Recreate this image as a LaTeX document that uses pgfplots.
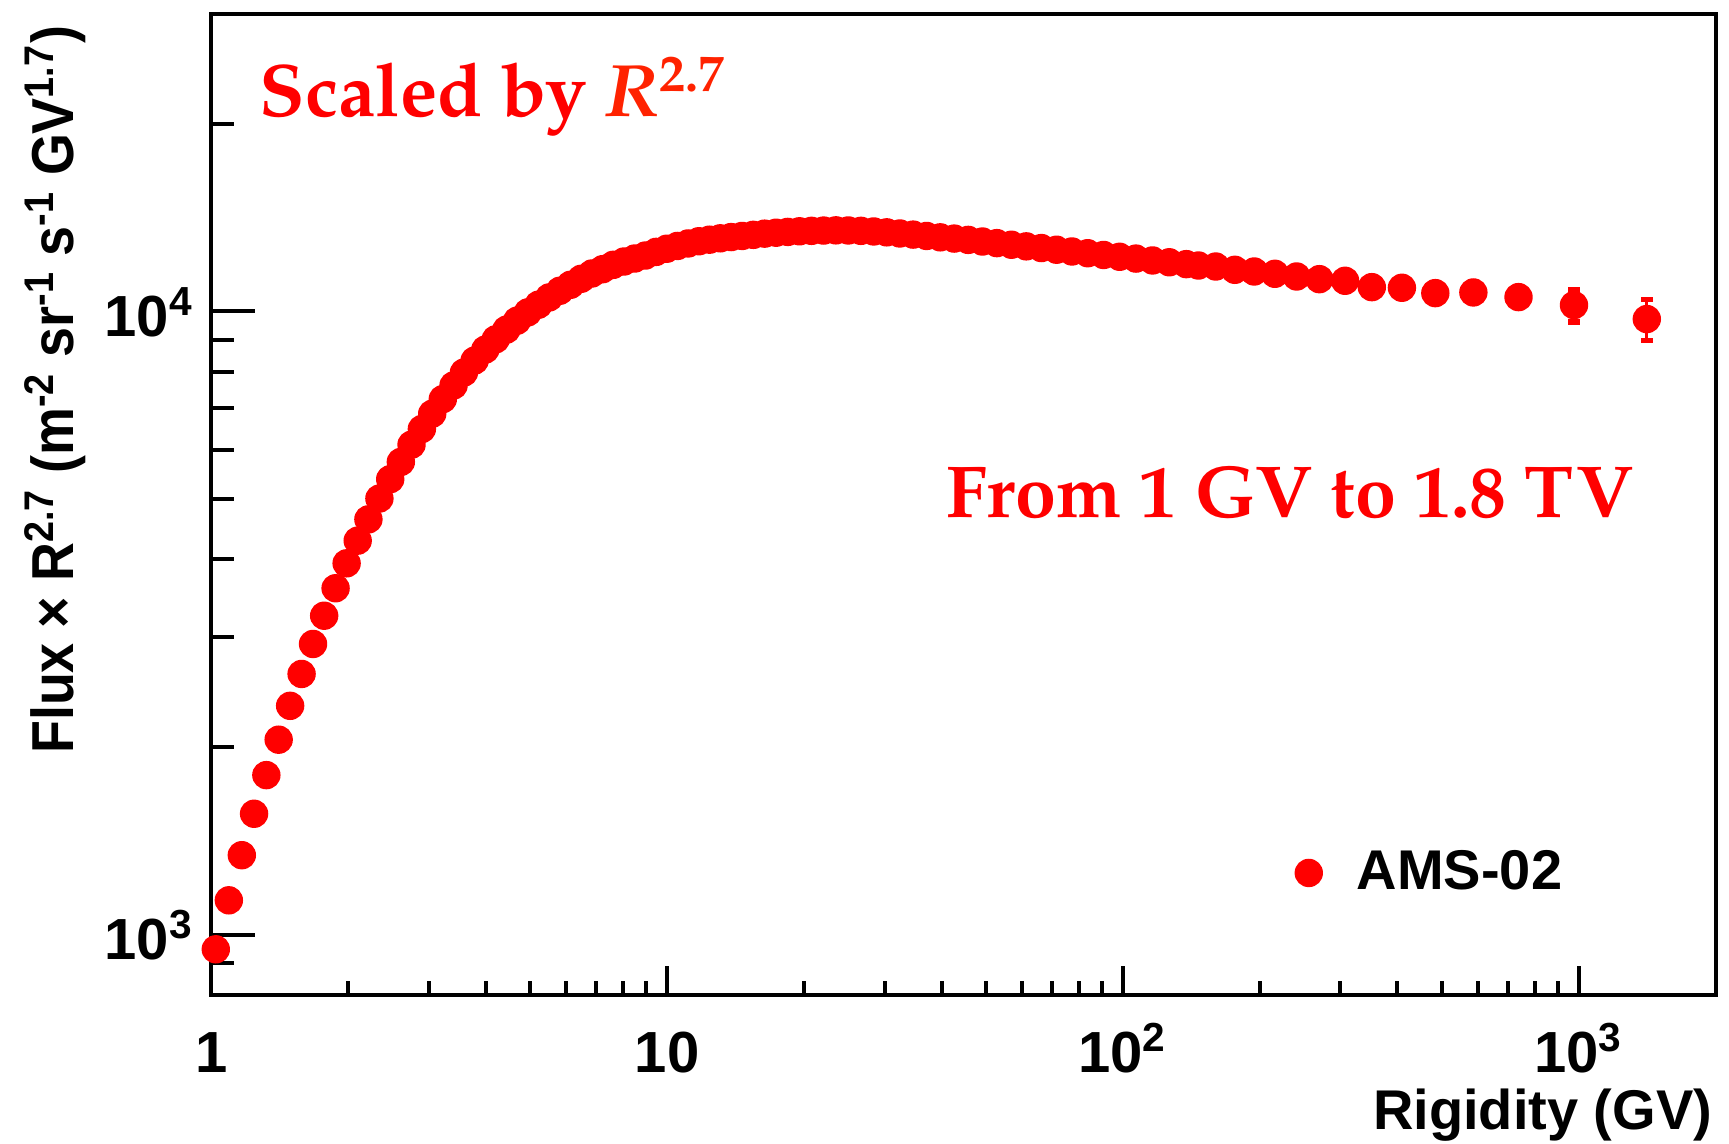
\documentclass[border=0pt]{standalone}
\usepackage{pgfplots}
\pgfplotsset{compat=1.18}
\usepackage{pgfplotstable}
\usepackage{graphicx}
\usepackage{fontspec}
\setmainfont{Liberation Sans}
\newfontfamily\pal{TeX Gyre Pagella}
\definecolor{rred}{RGB}{255,34,0}

\pgfplotstableread{
x y ey
1.0235 948 0
1.0932 1136 0
1.1673 1342 0
1.2418 1564 0
1.3213 1804 0
1.4061 2056 0
1.4900 2330 0
1.5788 2621 0
1.6728 2928 0
1.7696 3250 0
1.8747 3597 0
1.9822 3944 0
2.0960 4288 0
2.2125 4639 0
2.3388 5010 0
2.4700 5381 0
2.6062 5735 0
2.7508 6113 0
2.8985 6477 0
3.0539 6853 0
3.2219 7233 0
3.4012 7607 0
3.5844 7980 0
3.7841 8340 0
3.9946 8686 0
4.2090 9020 0
4.4429 9348 0
4.6881 9663 0
4.9489 9963 0
5.2240 10250 0
5.5118 10529 0
5.8187 10792 0
6.1424 11033 0
6.4823 11280 0
6.8429 11503 0
7.2236 11687 0
7.6208 11877 0
8.0445 12023 0
8.4918 12157 0
8.9637 12292 0
9.4623 12459 0
9.9862 12604 0
10.539 12735 0
11.125 12853 0
11.744 12958 0
12.391 13032 0
13.081 13098 0
13.821 13159 0
14.612 13213 0
15.460 13268 0
16.368 13326 0
17.345 13372 0
18.395 13412 0
19.524 13443 0
20.741 13465 0
22.049 13480 0
23.462 13490 0
24.980 13484 0
26.624 13465 0
28.403 13434 0
30.329 13391 0
32.404 13335 0
34.656 13280 0
37.101 13213 0
39.755 13146 0
42.649 13086 0
45.772 13023 0
49.182 12945 0
52.890 12868 0
56.942 12791 0
61.376 12715 0
66.222 12636 0
71.516 12558 0
77.304 12477 0
83.698 12397 0
90.694 12317 0
98.333 12235 0
106.79 12154 0
116.12 12070 0
126.38 11990 0
137.72 11907 0
146.44 11847 0
159.81 11803 0
176.02 11660 0
194.09 11588 0
215.47 11490 0
240.44 11376 0
269.77 11264 0
307.19 11197 0
351.56 10937 0
409.26 10912 0
484.50 10698 0
587.21 10725 0
737.60 10542 0
976.1 10235 620
1410 9721 730
}\amsdata

\begin{document}
\begin{tikzpicture}
% y ticks (longer, as in the reference)
\begin{axis}[
  xmode=log, ymode=log,
  xmin=1, xmax=2000, ymin=800, ymax=30000,
  width=376.2pt, height=245.33pt, scale only axis,
  at={(0pt,0pt)}, anchor=south west,
  clip=false, tick align=inside,
  xtick pos=left, ytick pos=left,
  tick style={line width=1pt, black},
  tick label style={font=\fontsize{14.5}{14.5}\selectfont\bfseries, inner sep=0pt},
  xtick=\empty,
  ytick={1000,10000},
  yticklabels={10\textsuperscript{3},10\textsuperscript{4}},
  minor ytick={900,2000,3000,4000,5000,6000,7000,8000,9000,20000,30000},
  major tick length=11pt, minor tick length=5.75pt,
  yticklabel style={anchor=base east, xshift=-4.15pt, yshift=-6.2pt},
  axis line style={draw=none},
]
\end{axis}
% main axis with data and x ticks
\begin{axis}[
  xmode=log, ymode=log,
  xmin=1, xmax=2000, ymin=800, ymax=30000,
  width=376.2pt, height=245.33pt, scale only axis,
  at={(0pt,0pt)}, anchor=south west,
  clip=false, tick align=inside,
  xtick pos=left, ytick pos=left,
  axis line style={line width=1pt, black},
  tick style={line width=1pt, black},
  tick label style={font=\fontsize{14.5}{14.5}\selectfont\bfseries, inner sep=0pt},
  xtick={1,10,100,1000},
  xticklabels={1,10,10\textsuperscript{2},10\textsuperscript{3}},
  minor xtick={2,3,4,5,6,7,8,9,20,30,40,50,60,70,80,90,200,300,400,500,600,700,800,900,2000},
  ytick=\empty,
  major tick length=7.4pt, minor tick length=3.6pt,
  xticklabel style={anchor=base, yshift=-19.2pt},
  legend style={at={(0.71996,0.12463)}, anchor=west, draw=none, fill=none,
    inner sep=0pt, column sep=8.65pt,
    font=\fontsize{14}{14}\selectfont\bfseries, nodes={inner sep=0pt}},
  legend image code/.code={\draw[only marks, mark=*, mark size=3.35pt, mark options={draw=none, fill=red}] plot coordinates {(0pt,0pt)};},
]
\addplot[only marks, mark=*, mark size=3.35pt, color=red,
  mark options={draw=none, fill=red},
  error bars/.cd, y dir=both, y explicit,
  error bar style={line width=0.75pt, red},
  error mark options={rotate=90, line width=1.3pt, mark size=1.45pt, red}]
  table[x=x, y=y, y error=ey]{\amsdata};
\addlegendentry{AMS-02}
\end{axis}

% annotations
\node[anchor=base west, inner sep=0pt, text=red,
  font=\pal\bfseries\fontsize{18.6}{18.6}\selectfont] at (11.95pt,219.65pt)
  {Scaled by \textcolor{rred}{\itshape R\textsuperscript{\upshape 2.7}}};
\node[anchor=base west, inner sep=0pt, text=red,
  font=\pal\bfseries\fontsize{18.4}{18.4}\selectfont] at (183.7pt,119.5pt)
  {From 1 GV to 1.8 TV};
\node[anchor=base east, inner sep=0pt,
  font=\fontsize{14}{14}\selectfont\bfseries] at (375.45pt,-33.675pt)
  {Rigidity (GV)};
\node[anchor=base west, rotate=90, inner sep=0pt,
  font=\fontsize{14.8}{14.8}\selectfont\bfseries] at (-34.3pt,60.15pt)
  {\scalebox{0.91}[1]{Flux × R\textsuperscript{2.7} (m\textsuperscript{-2} sr\textsuperscript{-1} s\textsuperscript{-1} GV\textsuperscript{1.7})}};

\pgfresetboundingbox
\path[use as bounding box] (-52.8pt,-37.175pt) rectangle (379.45pt,248.825pt);
\end{tikzpicture}
\end{document}
